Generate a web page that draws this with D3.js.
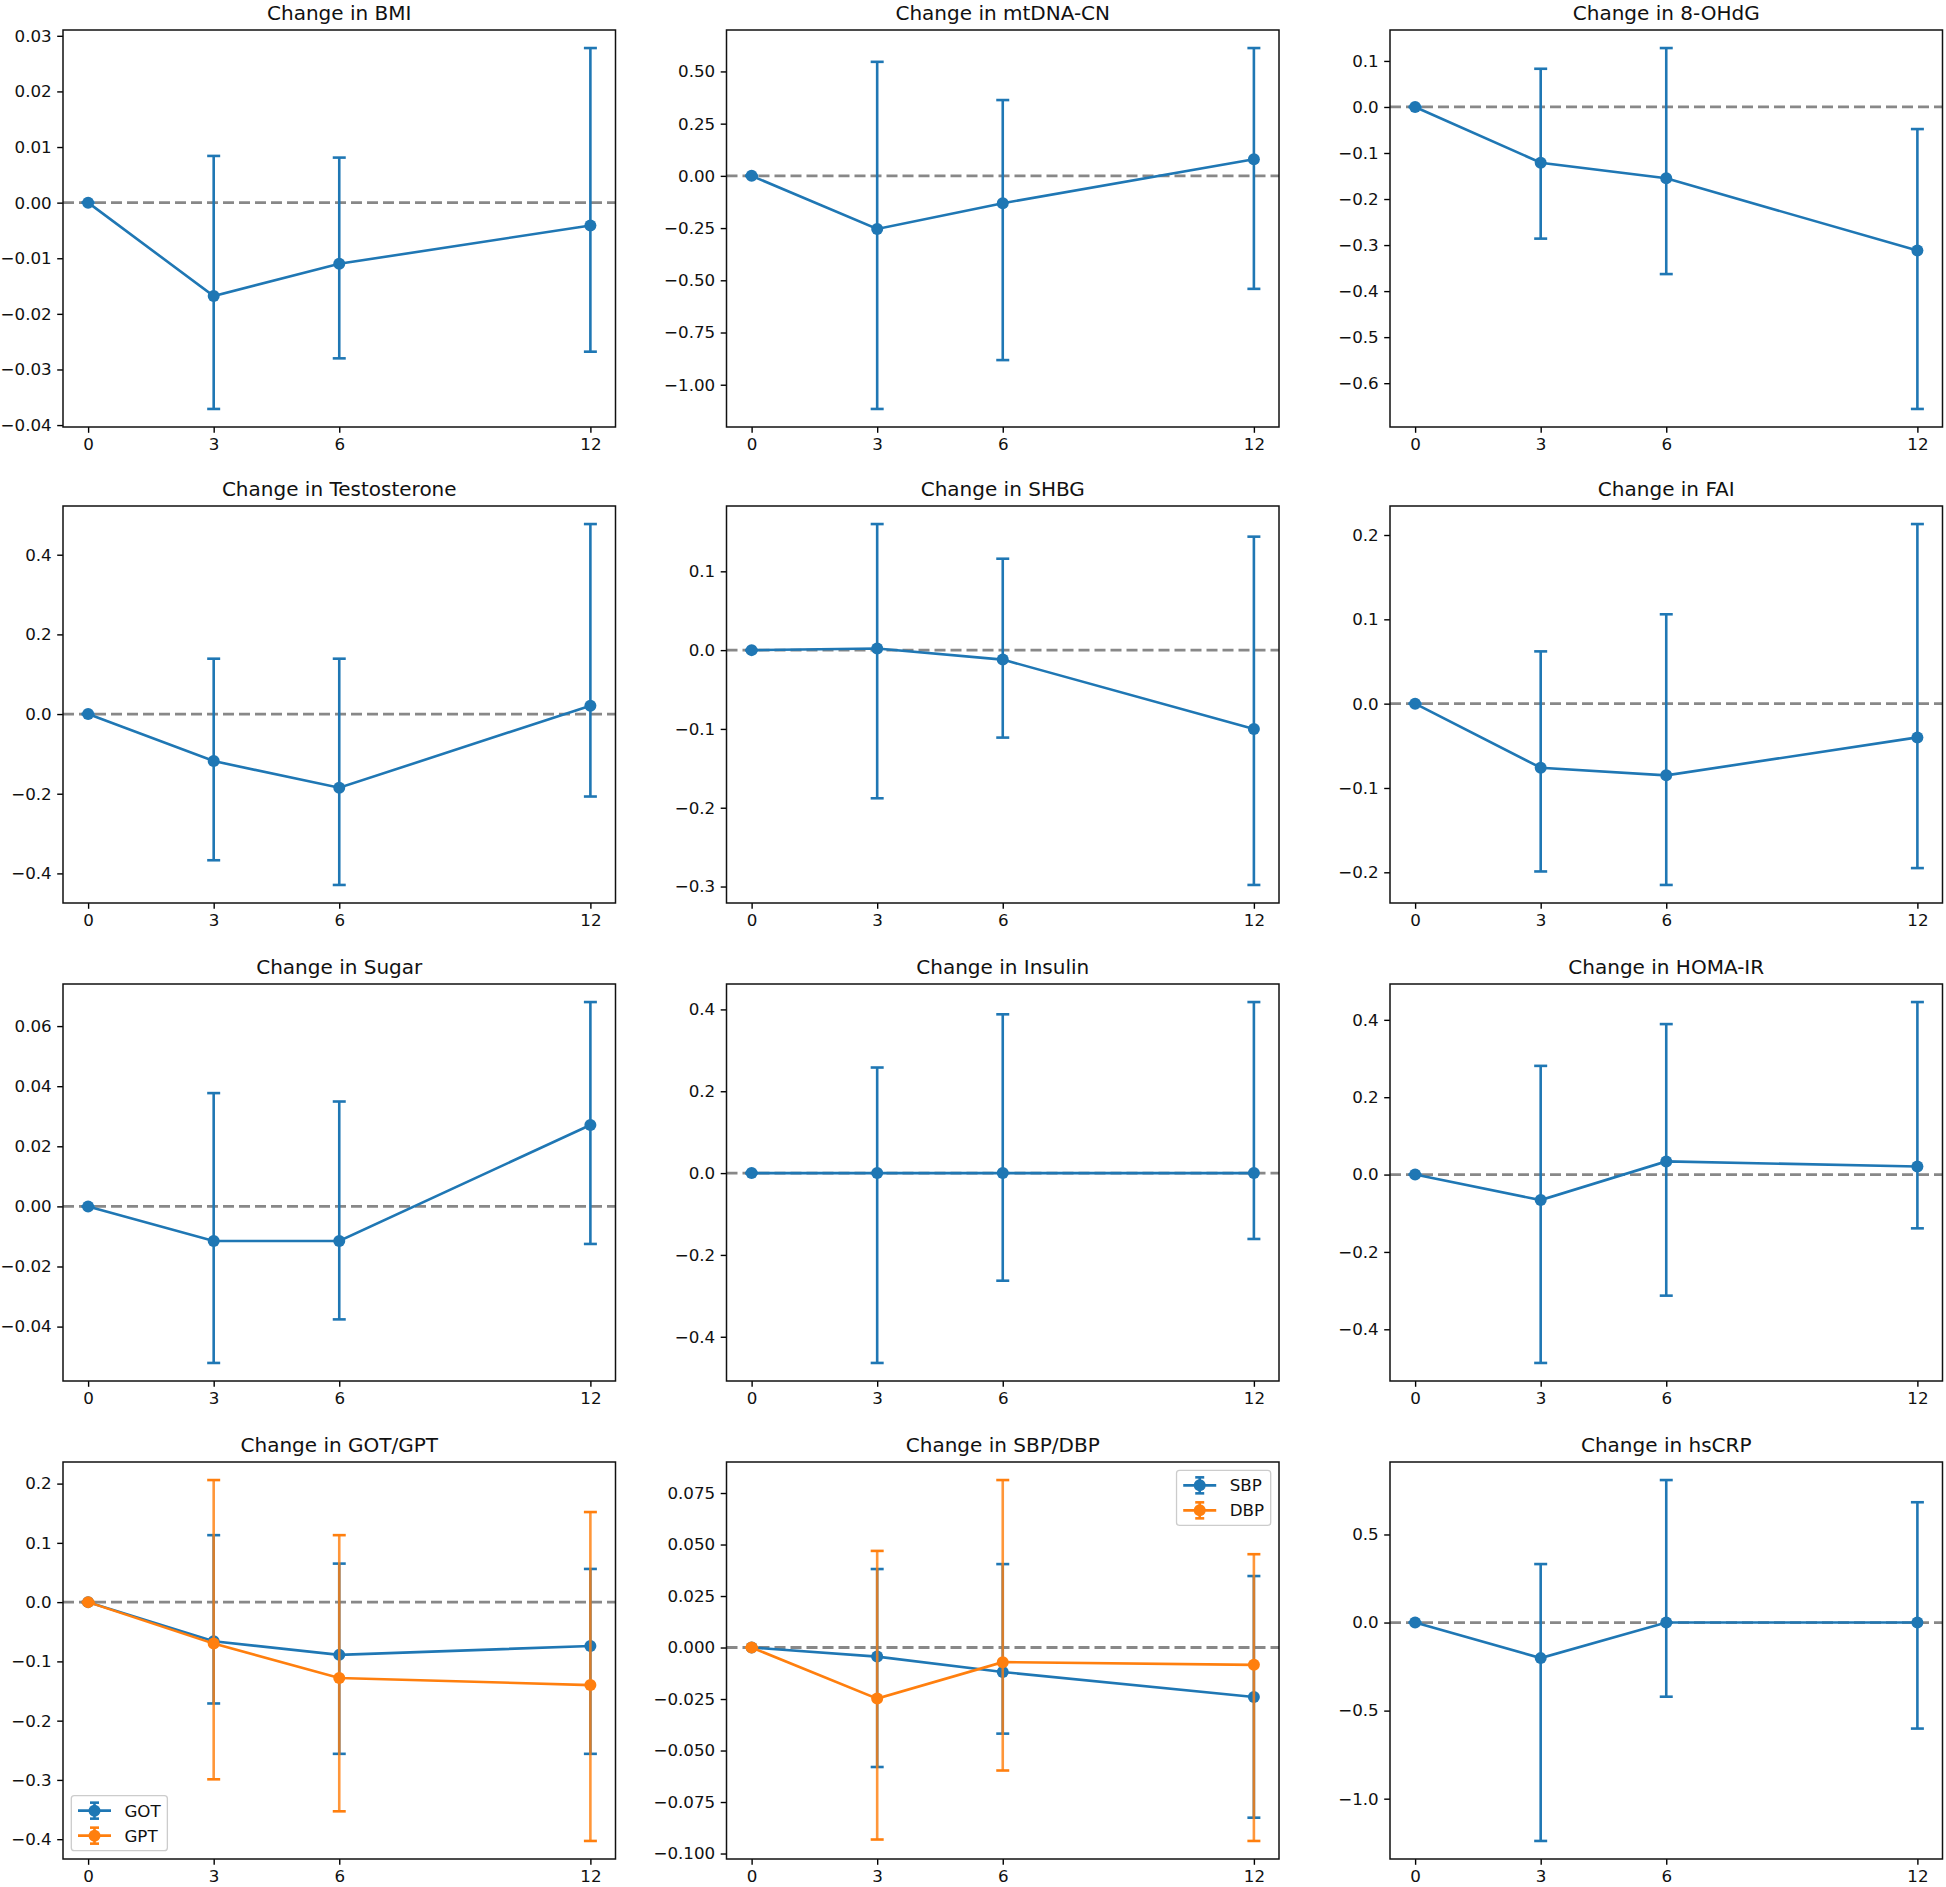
<!DOCTYPE html>
<html><head><meta charset="utf-8">
<script src="https://cdn.jsdelivr.net/npm/d3@7"></script>
<style>
body{margin:0;background:#fff;}
svg{display:block;font-family:"DejaVu Sans",sans-serif;}
</style>
</head><body>
<svg id="chart" width="1946" height="1887"></svg>
<script>
// ---------- data ----------
const months = [0, 3, 6, 12];
const xTickValues = [0, 3, 6, 12];

const titles = ["Change in BMI", "Change in mtDNA-CN", "Change in 8-OHdG",
  "Change in Testosterone", "Change in SHBG", "Change in FAI",
  "Change in Sugar", "Change in Insulin", "Change in HOMA-IR",
  "Change in GOT/GPT", "Change in SBP/DBP", "Change in hsCRP"];

const bmiMean = [0, -0.0168, -0.0110, -0.0041];
const bmiLow  = [0, -0.0371, -0.0280, -0.0268];
const bmiHigh = [0,  0.0084,  0.0081,  0.0278];
const bmiTicks = [-0.04, -0.03, -0.02, -0.01, 0, 0.01, 0.02, 0.03];

const mtdnaMean = [0, -0.254, -0.131, 0.080];
const mtdnaLow  = [0, -1.116, -0.882, -0.541];
const mtdnaHigh = [0,  0.546,  0.363,  0.612];
const mtdnaTicks = [-1.0, -0.75, -0.5, -0.25, 0, 0.25, 0.5];

const ohdgMean = [0, -0.121, -0.155, -0.312];
const ohdgLow  = [0, -0.286, -0.363, -0.656];
const ohdgHigh = [0,  0.083,  0.128, -0.048];
const ohdgTicks = [-0.6, -0.5, -0.4, -0.3, -0.2, -0.1, 0, 0.1];

const testoMean = [0, -0.118, -0.185, 0.021];
const testoLow  = [0, -0.367, -0.429, -0.207];
const testoHigh = [0,  0.139,  0.139,  0.477];
const testoTicks = [-0.4, -0.2, 0, 0.2, 0.4];

const shbgMean = [0, 0.002, -0.012, -0.100];
const shbgLow  = [0, -0.188, -0.111, -0.298];
const shbgHigh = [0,  0.160,  0.116,  0.144];
const shbgTicks = [-0.3, -0.2, -0.1, 0, 0.1];

const faiMean = [0, -0.076, -0.085, -0.040];
const faiLow  = [0, -0.199, -0.215, -0.195];
const faiHigh = [0,  0.062,  0.106,  0.213];
const faiTicks = [-0.2, -0.1, 0, 0.1, 0.2];

const sugarMean = [0, -0.0115, -0.0115, 0.0271];
const sugarLow  = [0, -0.0521, -0.0376, -0.0125];
const sugarHigh = [0,  0.0377,  0.0349,  0.0680];
const sugarTicks = [-0.04, -0.02, 0, 0.02, 0.04, 0.06];

const insulinMean = [0, 0, 0, 0];
const insulinLow  = [0, -0.464, -0.263, -0.161];
const insulinHigh = [0,  0.258,  0.388,  0.418];
const insulinTicks = [-0.4, -0.2, 0, 0.2, 0.4];

const homaMean = [0, -0.066, 0.034, 0.021];
const homaLow  = [0, -0.487, -0.313, -0.139];
const homaHigh = [0,  0.281,  0.389,  0.446];
const homaTicks = [-0.4, -0.2, 0, 0.2, 0.4];

const gotMean = [0, -0.066, -0.089, -0.074];
const gotLow  = [0, -0.171, -0.256, -0.256];
const gotHigh = [0,  0.113,  0.065,  0.056];
const gptMean = [0, -0.070, -0.128, -0.140];
const gptLow  = [0, -0.299, -0.353, -0.403];
const gptHigh = [0,  0.206,  0.113,  0.152];
const gotgptTicks = [-0.4, -0.3, -0.2, -0.1, 0, 0.1, 0.2];

const sbpMean = [0, -0.0044, -0.0119, -0.0240];
const sbpLow  = [0, -0.0580, -0.0418, -0.0826];
const sbpHigh = [0,  0.0381,  0.0405,  0.0347];
const dbpMean = [0, -0.0248, -0.0071, -0.0084];
const dbpLow  = [0, -0.0932, -0.0597, -0.0939];
const dbpHigh = [0,  0.0469,  0.0813,  0.0453];
const bpTicks = [-0.1, -0.075, -0.05, -0.025, 0, 0.025, 0.05, 0.075];

const crpMean = [0, -0.202, 0, 0];
const crpLow  = [0, -1.240, -0.421, -0.602];
const crpHigh = [0,  0.332,  0.809,  0.683];
const crpTicks = [-1.0, -0.5, 0, 0.5];

// ---------- panel table built from the arrays ----------
const BLUE = "#1f77b4", ORANGE = "#ff7f0e";
const S = (name, mean, low, high, color) => ({name, mean, low, high, color});
const panels = [
  {title: titles[0], ticks: bmiTicks, dec: 2, series: [S("BMI", bmiMean, bmiLow, bmiHigh, BLUE)]},
  {title: titles[1], ticks: mtdnaTicks, dec: 2, series: [S("mtDNA-CN", mtdnaMean, mtdnaLow, mtdnaHigh, BLUE)]},
  {title: titles[2], ticks: ohdgTicks, dec: 1, series: [S("8-OHdG", ohdgMean, ohdgLow, ohdgHigh, BLUE)]},
  {title: titles[3], ticks: testoTicks, dec: 1, series: [S("Testosterone", testoMean, testoLow, testoHigh, BLUE)]},
  {title: titles[4], ticks: shbgTicks, dec: 1, series: [S("SHBG", shbgMean, shbgLow, shbgHigh, BLUE)]},
  {title: titles[5], ticks: faiTicks, dec: 1, series: [S("FAI", faiMean, faiLow, faiHigh, BLUE)]},
  {title: titles[6], ticks: sugarTicks, dec: 2, series: [S("Sugar", sugarMean, sugarLow, sugarHigh, BLUE)]},
  {title: titles[7], ticks: insulinTicks, dec: 1, series: [S("Insulin", insulinMean, insulinLow, insulinHigh, BLUE)]},
  {title: titles[8], ticks: homaTicks, dec: 1, series: [S("HOMA-IR", homaMean, homaLow, homaHigh, BLUE)]},
  {title: titles[9], ticks: gotgptTicks, dec: 1, legend: "lower left",
    series: [S("GOT", gotMean, gotLow, gotHigh, BLUE), S("GPT", gptMean, gptLow, gptHigh, ORANGE)]},
  {title: titles[10], ticks: bpTicks, dec: 3, legend: "upper right",
    series: [S("SBP", sbpMean, sbpLow, sbpHigh, BLUE), S("DBP", dbpMean, dbpLow, dbpHigh, ORANGE)]},
  {title: titles[11], ticks: crpTicks, dec: 1, series: [S("hsCRP", crpMean, crpLow, crpHigh, BLUE)]}
];

// ---------- layout ----------
const colLeft = [63, 726.5, 1390];
const rowTop = [30, 506, 984, 1462];
const W = 552.5, H = 397;
const TICK_FS = 16.7, TITLE_FS = 20;
const LW = 2.6, CAP = 6.5, R = 6;

const svg = d3.select("#chart");

panels.forEach((p, i) => {
  const left = colLeft[i % 3], top = rowTop[Math.floor(i / 3)];
  const g = svg.append("g");

  const x = d3.scaleLinear().domain([-0.6, 12.6]).range([left, left + W]);
  const allLow = d3.min(p.series, s => d3.min(s.low));
  const allHigh = d3.max(p.series, s => d3.max(s.high));
  const pad = 0.05 * (allHigh - allLow);
  const y = d3.scaleLinear().domain([allLow - pad, allHigh + pad]).range([top + H, top]);

  // zero reference line
  g.append("line")
    .attr("x1", left).attr("x2", left + W)
    .attr("y1", y(0)).attr("y2", y(0))
    .attr("stroke", "#888888").attr("stroke-width", 2.8)
    .attr("stroke-dasharray", "11,5");

  p.series.forEach((s, si) => {
    const sg = g.append("g");
    const pts = months.map((m, k) => ({m, v: s.mean[k], lo: s.low[k], hi: s.high[k]}));
    const op = si > 0 ? 0.82 : 1;
    // error bars
    sg.selectAll(".eb").data(pts).enter().append("line")
      .attr("x1", d => x(d.m)).attr("x2", d => x(d.m))
      .attr("y1", d => y(d.lo)).attr("y2", d => y(d.hi))
      .attr("stroke", s.color).attr("stroke-width", LW).attr("stroke-opacity", op);
    // caps
    const caps = [];
    pts.forEach(d => { caps.push({m: d.m, v: d.lo}); caps.push({m: d.m, v: d.hi}); });
    sg.selectAll(".cap").data(caps).enter().append("line")
      .attr("x1", d => x(d.m) - CAP).attr("x2", d => x(d.m) + CAP)
      .attr("y1", d => y(d.v)).attr("y2", d => y(d.v))
      .attr("stroke", s.color).attr("stroke-width", LW);
    // line
    sg.append("path")
      .attr("d", d3.line().x(d => x(d.m)).y(d => y(d.v))(pts))
      .attr("fill", "none").attr("stroke", s.color).attr("stroke-width", LW);
    // markers
    sg.selectAll(".pt").data(pts).enter().append("circle")
      .attr("cx", d => x(d.m)).attr("cy", d => y(d.v)).attr("r", R)
      .attr("fill", s.color);
  });

  // axes
  const fmt = d3.format("." + p.dec + "f");
  const xa = g.append("g").attr("transform", `translate(0,${top + H})`)
    .call(d3.axisBottom(x).tickValues(xTickValues).tickFormat(d3.format("d"))
      .tickSize(5.8).tickPadding(5).tickSizeOuter(0));
  const ya = g.append("g").attr("transform", `translate(${left},0)`)
    .call(d3.axisLeft(y).tickValues(p.ticks).tickFormat(fmt)
      .tickSize(5.8).tickPadding(5.5).tickSizeOuter(0));
  [xa, ya].forEach(a => {
    a.select(".domain").remove();
    a.selectAll(".tick line").attr("stroke", "#000").attr("stroke-width", 1.4);
    a.selectAll(".tick text").attr("fill", "#111")
      .style("font-size", TICK_FS + "px").style("font-family", '"DejaVu Sans", sans-serif');
  });

  // spines
  g.append("rect").attr("x", left).attr("y", top).attr("width", W).attr("height", H)
    .attr("fill", "none").attr("stroke", "#111").attr("stroke-width", 1.5);

  // title
  g.append("text").attr("x", left + W / 2).attr("y", top - 10)
    .attr("text-anchor", "middle").attr("fill", "#111")
    .style("font-size", TITLE_FS + "px").text(p.title);

  // legend
  if (p.legend) {
    const bp = 6.7, hl = 33, htp = 13.4, ls = 8.3, rowH = 16.7, axpad = 8.3;
    const lg = g.append("g");
    const frame = lg.append("rect");
    const texts = p.series.map(s => lg.append("text").style("font-size", TICK_FS + "px")
      .attr("fill", "#111").attr("dominant-baseline", "central").text(s.name));
    const tw = d3.max(texts, t => t.node().getComputedTextLength());
    const bw = bp * 2 + hl + htp + tw;
    const bh = bp * 2 + rowH * p.series.length + ls * (p.series.length - 1);
    let bx, by;
    if (p.legend === "lower left") { bx = left + axpad; by = top + H - axpad - bh; }
    else { bx = left + W - axpad - bw; by = top + axpad; }
    frame.attr("x", bx).attr("y", by).attr("width", bw).attr("height", bh)
      .attr("rx", 3).attr("fill", "#fff").attr("fill-opacity", 0.8)
      .attr("stroke", "#cccccc").attr("stroke-width", 1.3);
    p.series.forEach((s, k) => {
      const cy = by + bp + rowH / 2 + k * (rowH + ls);
      const cx = bx + bp + hl / 2;
      lg.append("line").attr("x1", bx + bp).attr("x2", bx + bp + hl)
        .attr("y1", cy).attr("y2", cy).attr("stroke", s.color).attr("stroke-width", LW);
      lg.append("line").attr("x1", cx).attr("x2", cx).attr("y1", cy - 8).attr("y2", cy + 8)
        .attr("stroke", s.color).attr("stroke-width", LW);
      [cy - 8, cy + 8].forEach(yy => lg.append("line").attr("x1", cx - 4.5).attr("x2", cx + 4.5)
        .attr("y1", yy).attr("y2", yy).attr("stroke", s.color).attr("stroke-width", LW));
      lg.append("circle").attr("cx", cx).attr("cy", cy).attr("r", R).attr("fill", s.color);
      texts[k].attr("x", bx + bp + hl + htp).attr("y", cy);
    });
  }
});
</script>
</body></html>
